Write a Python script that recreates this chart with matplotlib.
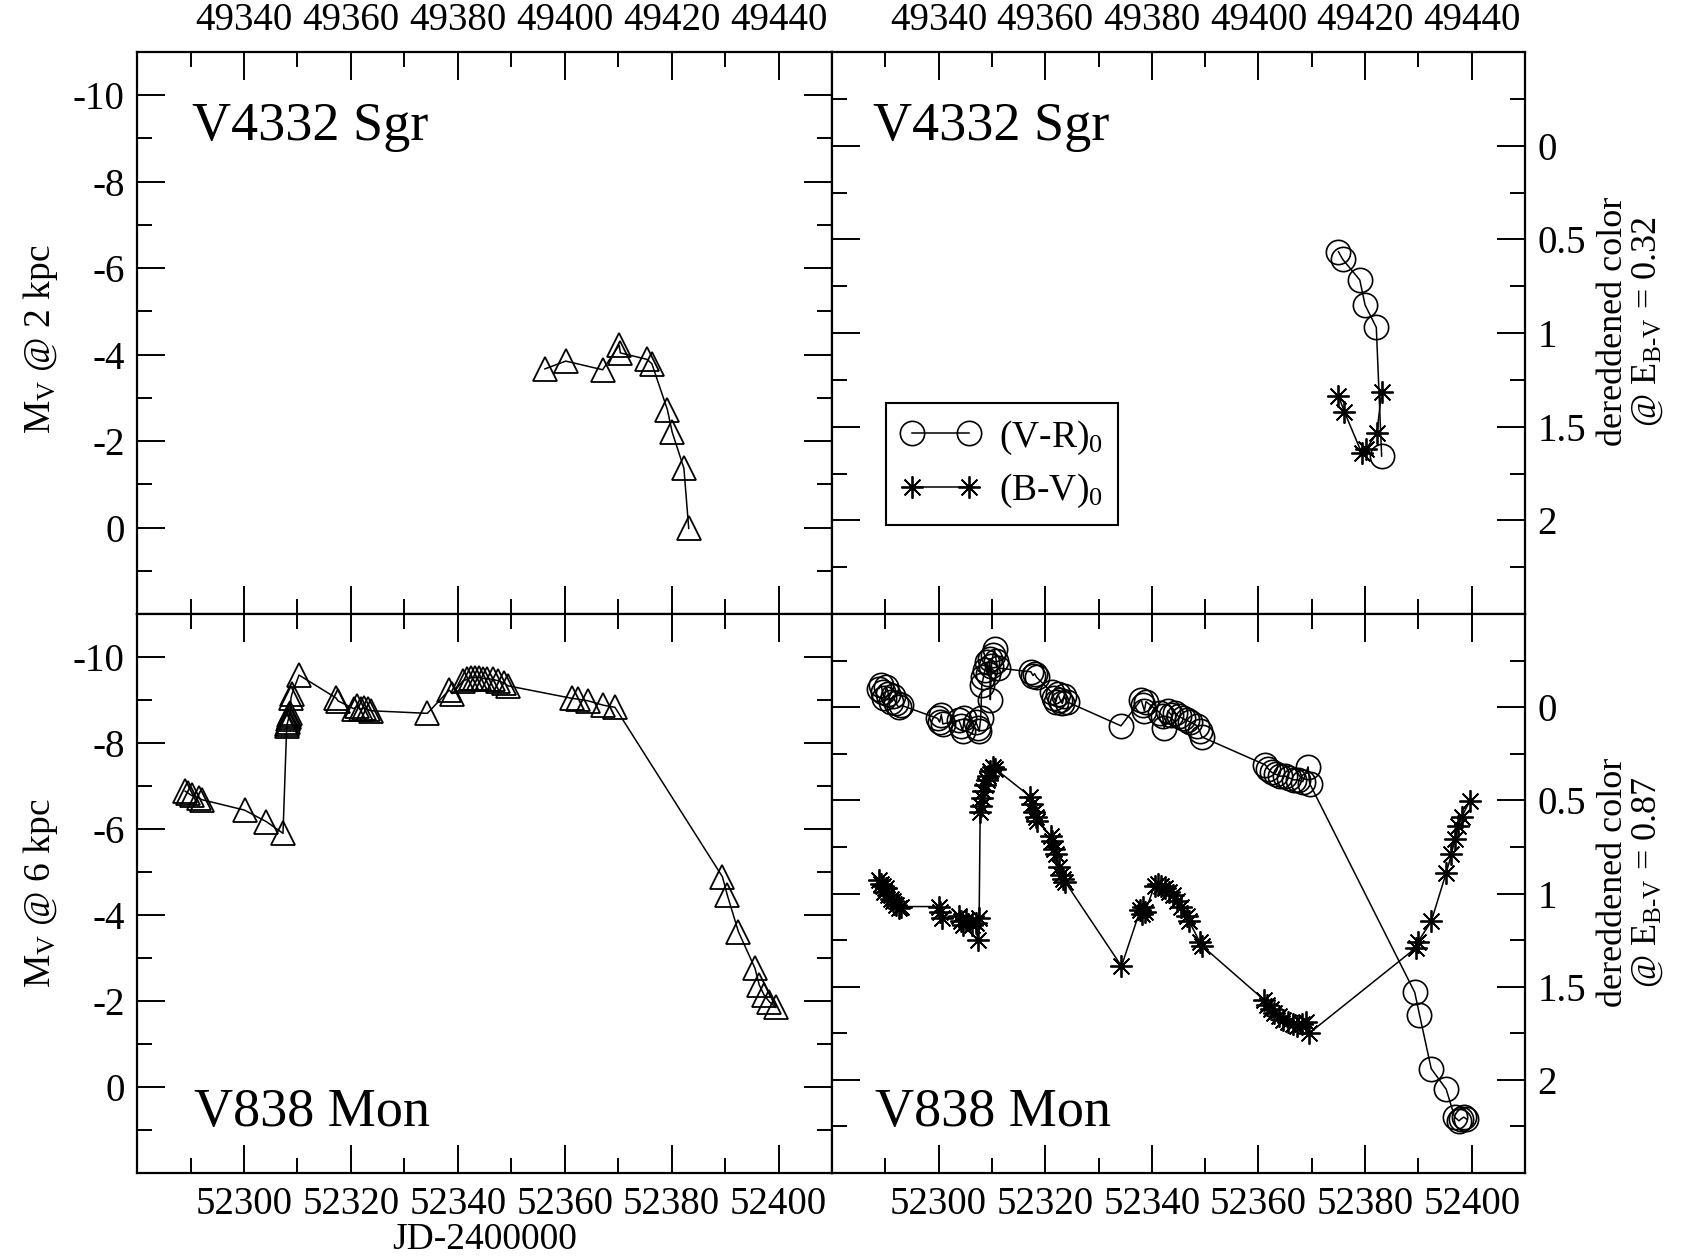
import matplotlib
matplotlib.use("Agg")
import matplotlib.pyplot as plt
from matplotlib.ticker import FixedLocator, MultipleLocator, FuncFormatter

plt.rcParams["font.family"] = ["Liberation Serif", "DejaVu Serif"]
plt.rcParams["mathtext.fontset"] = "custom"
plt.rcParams["mathtext.rm"] = "Liberation Serif"
plt.rcParams["mathtext.it"] = "Liberation Serif:italic"
plt.rcParams["mathtext.bf"] = "Liberation Serif:bold"
plt.rcParams["axes.unicode_minus"] = False

# ---------------- data ----------------
# V4332 Sgr (JD-2400000), absolute V magnitude at 2 kpc
sgr_jd = [49396.3, 49400.2, 49407.1, 49410.2, 49410.4, 49415.4, 49416.3,
          49419.2, 49420.1, 49422.3, 49423.2]
sgr_mv = [-3.67, -3.85, -3.65, -4.22, -4.04, -3.89, -3.79,
          -2.73, -2.21, -1.37, 0.02]

# V4332 Sgr dereddened colours (E(B-V) = 0.32)
sgr_vr_jd = [49415.0, 49415.8, 49419.0, 49420.0, 49422.1, 49423.1]
sgr_vr = [0.566, 0.607, 0.717, 0.851, 0.97, 1.657]
sgr_bv_jd = [49415.0, 49416.1, 49419.4, 49420.2, 49422.2, 49423.1]
sgr_bv = [1.335, 1.42, 1.643, 1.62, 1.535, 1.313]

# V838 Mon, absolute V magnitude at 6 kpc
mon_jd = [52289.0, 52289.5, 52290.2, 52291.5, 52292.2, 52300.1, 52304.2, 52307.3,
          52308.0, 52308.1, 52308.2, 52308.3, 52308.4, 52308.5, 52308.6, 52308.8,
          52309.0, 52310.3, 52317.2, 52317.6, 52320.5, 52321.2, 52321.8, 52322.5,
          52323.2, 52323.8, 52334.3, 52338.4, 52339.0, 52341.0, 52341.8, 52342.5,
          52343.2, 52344.0, 52344.8, 52345.5, 52346.5, 52347.5, 52348.6, 52349.4,
          52361.3, 52362.5, 52364.4, 52367.2, 52369.4, 52389.5, 52390.4, 52392.5,
          52395.6, 52396.4, 52397.3, 52398.3, 52399.5]
mon_mv = [-6.88, -6.84, -6.78, -6.72, -6.68, -6.44, -6.17, -5.90,
          -8.40, -8.45, -8.50, -8.55, -8.60, -8.65, -8.70, -9.05,
          -9.15, -9.58, -9.05, -8.98, -8.80, -8.85, -8.78, -8.82,
          -8.78, -8.75, -8.69, -9.23, -9.15, -9.45, -9.48, -9.52,
          -9.52, -9.52, -9.50, -9.50, -9.48, -9.45, -9.40, -9.33,
          -9.04, -9.02, -8.98, -8.88, -8.83, -4.89, -4.47, -3.61,
          -2.76, -2.37, -2.14, -1.98, -1.85]

# V838 Mon dereddened (V-R)0, E(B-V) = 0.87
mon_vr_jd = [52288.8, 52289.2, 52289.5, 52289.8, 52290.2, 52290.6, 52291.0, 52291.5,
             52292.0, 52292.5, 52293.0, 52299.8, 52300.2, 52300.5, 52300.8, 52303.8,
             52304.2, 52304.5, 52304.8, 52307.0, 52307.4, 52307.6, 52307.9, 52308.1,
             52308.4, 52308.7, 52309.0, 52309.3, 52309.6, 52309.7, 52309.9, 52310.2,
             52310.5, 52310.8, 52311.1, 52317.3, 52317.7, 52318.0, 52318.4, 52321.2,
             52321.6, 52322.0, 52322.4, 52322.8, 52323.2, 52323.6, 52324.0, 52334.2,
             52338.0, 52338.3, 52338.6, 52338.9, 52341.5, 52342.0, 52342.3, 52343.0,
             52343.6, 52344.4, 52345.0, 52345.8, 52346.5, 52347.2, 52348.5, 52349.0,
             52349.4, 52361.3, 52361.8, 52362.5, 52363.2, 52364.0, 52365.0, 52365.8,
             52366.6, 52367.5, 52368.3, 52369.3, 52369.6, 52389.3, 52390.2, 52392.4,
             52395.2, 52396.8, 52397.6, 52398.0, 52398.5, 52399.0]
mon_vr = [-0.10, -0.12, -0.08, -0.05, -0.11, -0.07, -0.03, -0.06,
          -0.02, 0.00, -0.01, 0.06, 0.08, 0.04, 0.09, 0.07,
          0.10, 0.13, 0.06, 0.08, 0.11, 0.13, 0.06, -0.12,
          -0.16, -0.20, -0.24, -0.18, -0.26, -0.04, -0.22, -0.28,
          -0.31, -0.25, -0.21, -0.19, -0.17, -0.18, -0.16, -0.08,
          -0.05, -0.03, -0.07, -0.04, -0.02, -0.06, -0.03, 0.10,
          -0.04, -0.01, 0.02, -0.03, 0.03, 0.05, 0.11, 0.02,
          0.04, 0.03, 0.05, 0.06, 0.07, 0.08, 0.10, 0.13,
          0.16, 0.31, 0.33, 0.35, 0.36, 0.37, 0.37, 0.38,
          0.39, 0.39, 0.40, 0.32, 0.41, 1.53, 1.65, 1.94,
          2.05, 2.20, 2.22, 2.21, 2.20, 2.21]

# V838 Mon dereddened (B-V)0, E(B-V) = 0.87
mon_bv_jd = [52288.8, 52289.2, 52289.5, 52289.8, 52290.2, 52290.6, 52291.0, 52291.5,
             52292.0, 52292.5, 52293.0, 52300.0, 52300.3, 52300.6, 52303.8, 52304.2,
             52304.6, 52305.2, 52306.3, 52307.0, 52307.3, 52307.6, 52307.8, 52308.0,
             52308.2, 52308.4, 52308.7, 52309.0, 52309.3, 52309.7, 52310.2, 52310.6,
             52317.2, 52317.6, 52317.9, 52318.2, 52318.5, 52321.0, 52321.3, 52321.6,
             52322.0, 52322.6, 52323.0, 52323.4, 52323.8, 52334.3, 52337.8, 52338.1,
             52338.4, 52338.7, 52340.5, 52341.2, 52341.8, 52342.5, 52343.2, 52344.0,
             52344.8, 52345.5, 52346.5, 52347.0, 52349.0, 52349.4, 52361.0, 52361.6,
             52362.3, 52363.0, 52363.8, 52364.6, 52365.5, 52366.4, 52367.3, 52368.2,
             52369.0, 52369.5, 52389.6, 52389.9, 52392.4, 52395.2, 52396.2, 52396.8,
             52397.5, 52398.1, 52399.6]
mon_bv = [0.93, 0.95, 0.96, 0.99, 0.97, 1.01, 1.03, 1.04,
          1.06, 1.08, 1.07, 1.07, 1.10, 1.13, 1.12, 1.15,
          1.17, 1.14, 1.17, 1.16, 1.25, 1.13, 0.56, 0.53,
          0.49, 0.45, 0.42, 0.39, 0.37, 0.34, 0.32, 0.33,
          0.48, 0.52, 0.56, 0.59, 0.61, 0.69, 0.72, 0.76,
          0.79, 0.86, 0.90, 0.92, 0.94, 1.39, 1.09, 1.11,
          1.07, 1.10, 0.96, 0.95, 0.96, 0.97, 0.99, 1.01,
          1.04, 1.07, 1.12, 1.15, 1.26, 1.28, 1.57, 1.60,
          1.62, 1.64, 1.66, 1.68, 1.69, 1.70, 1.71, 1.70,
          1.69, 1.75, 1.29, 1.26, 1.15, 0.89, 0.79, 0.71,
          0.64, 0.59, 0.505]

top_xticks = [49340, 49360, 49380, 49400, 49420, 49440]
bot_xticks = [52300, 52320, 52340, 52360, 52380, 52400]
mag_ticks = [-10, -8, -6, -4, -2, 0]
col_ticks = [0, 0.5, 1, 1.5, 2]

# ---------------- figure ----------------
fig = plt.figure(figsize=(16.9, 12.59), dpi=100)
L, MX, R = 0.0811, 0.4923, 0.9024
B, MY, T = 0.0683, 0.5123, 0.9587

ax_tl = fig.add_axes([L, MY, MX - L, T - MY])
ax_tr = fig.add_axes([MX, MY, R - MX, T - MY])
ax_bl = fig.add_axes([L, B, MX - L, MY - B])
ax_br = fig.add_axes([MX, B, R - MX, MY - B])

TICK_FS = 28
fmt = FuncFormatter(lambda v, p: "%g" % v)


def style(ax, xticks, xlim, ylim, yticks, yminor, top_row, left_col):
    ax.set_xlim(*xlim)
    ax.set_ylim(*ylim)
    ax.xaxis.set_major_locator(FixedLocator(xticks))
    ax.xaxis.set_minor_locator(MultipleLocator(10))
    ax.yaxis.set_major_locator(FixedLocator(yticks))
    ax.yaxis.set_minor_locator(MultipleLocator(yminor))
    ax.xaxis.set_major_formatter(fmt)
    ax.yaxis.set_major_formatter(fmt)
    for s in ax.spines.values():
        s.set_linewidth(1.6)
    ax.tick_params(which="both", direction="in", top=True, bottom=True,
                   left=True, right=True, width=1.4, labelsize=TICK_FS)
    ax.tick_params(which="major", length=20, pad=9)
    ax.tick_params(which="minor", length=10.5)
    ax.tick_params(labeltop=top_row, labelbottom=not top_row,
                   labelleft=left_col, labelright=not left_col)


style(ax_tl, top_xticks, (49320, 49450), (2, -11), mag_ticks, 1, True, True)
style(ax_bl, bot_xticks, (52280, 52410), (2, -11), mag_ticks, 1, False, True)
style(ax_tr, top_xticks, (49320, 49450), (2.5, -0.5), col_ticks, 0.25, True, False)
style(ax_br, bot_xticks, (52280, 52410), (2.5, -0.5), col_ticks, 0.25, False, False)

LW = 1.1
tri = dict(marker="^", ms=17.5, mfc="none", mec="black", mew=1.3,
           color="black", lw=LW)
circ = dict(marker="o", ms=17.5, mfc="none", mec="black", mew=1.2,
            color="black", lw=LW)
star = dict(marker=(8, 2, 0), ms=16, mec="black", mew=1.3,
            color="black", lw=LW)

ax_tl.plot(sgr_jd, sgr_mv, **tri)
ax_bl.plot(mon_jd, mon_mv, **tri)

ax_tr.plot(sgr_vr_jd, sgr_vr, label="(V-R)$_0$", **circ)
ax_tr.plot(sgr_bv_jd, sgr_bv, label="(B-V)$_0$", **star)
ax_br.plot(mon_vr_jd, mon_vr, **circ)
ax_br.plot(mon_bv_jd, mon_bv, **star)

leg = ax_tr.legend(loc="upper left", bbox_to_anchor=(0.078, 0.375),
                   numpoints=2, fontsize=27, handlelength=2.1,
                   handletextpad=0.5, borderpad=0.4, labelspacing=0.4,
                   borderaxespad=0, fancybox=False, framealpha=1,
                   edgecolor="black")
leg.get_frame().set_linewidth(1.5)

NAME_FS = 39
ax_tl.text(0.079, 0.843, "V4332 Sgr", transform=ax_tl.transAxes,
           fontsize=NAME_FS, va="baseline")
ax_tr.text(0.059, 0.843, "V4332 Sgr", transform=ax_tr.transAxes,
           fontsize=NAME_FS, va="baseline")
ax_bl.text(0.082, 0.084, "V838 Mon", transform=ax_bl.transAxes,
           fontsize=NAME_FS, va="baseline")
ax_br.text(0.062, 0.084, "V838 Mon", transform=ax_br.transAxes,
           fontsize=NAME_FS, va="baseline")

LAB_FS = 27
ax_tl.set_ylabel("M$_\\mathrm{V}$ @ 2 kpc", fontsize=LAB_FS)
ax_bl.set_ylabel("M$_\\mathrm{V}$ @ 6 kpc", fontsize=LAB_FS)
ax_tl.yaxis.set_label_coords(-0.111, 0.49)
ax_bl.yaxis.set_label_coords(-0.111, 0.5)

for ax, ebv in ((ax_tr, "0.32"), (ax_br, "0.87")):
    ax.yaxis.set_label_position("right")
    ax.set_ylabel("dereddened color\n@ E$_{\\mathrm{B\\text{-}V}}$ = " + ebv,
                  fontsize=26, linespacing=1.0)
    ax.yaxis.set_label_coords(1.104, 0.52)

ax_bl.set_xlabel("JD-2400000", fontsize=LAB_FS)
ax_bl.xaxis.set_label_coords(0.5, -0.089)

fig.savefig("out.png", dpi=100)
